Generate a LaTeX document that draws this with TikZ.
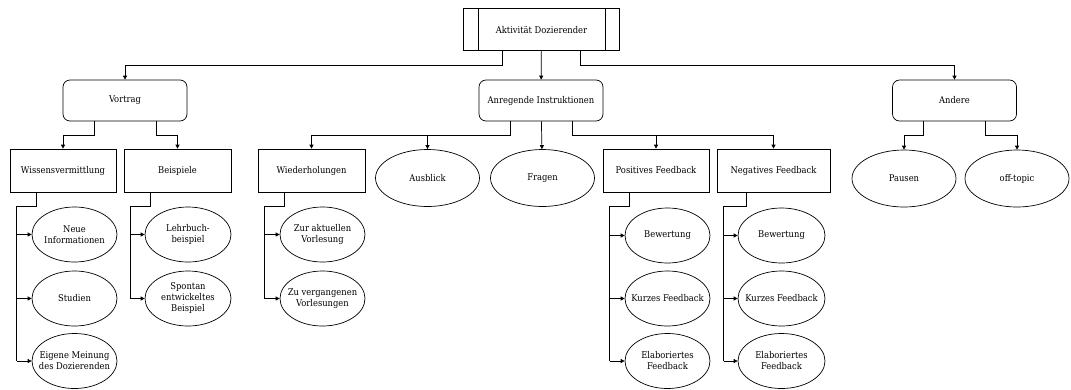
\documentclass[tikz,border=0pt]{standalone}
\usepackage{fontspec}
\setmainfont{DejaVu Serif Condensed}
\usetikzlibrary{arrows.meta,shapes.geometric,calc}

\begin{document}
\begin{tikzpicture}[x=1pt,y=-1pt,
    font=\fontsize{9.3}{11}\selectfont,
    every path/.style={line width=0.7pt},
    arr/.style={-{Triangle[length=4pt,width=4pt]}},
    topbox/.style={draw, rectangle, minimum width=156, minimum height=42},
    groupbox/.style={draw, rectangle, rounded corners=7pt, minimum width=124, minimum height=41},
    catbox/.style={draw, rectangle, minimum width=106, minimum height=43},
    leaf/.style={draw, ellipse, align=center, inner xsep=-40pt, inner ysep=0pt,
        minimum width=85, minimum height=55},
    bigleaf/.style={leaf, minimum width=104, minimum height=57}]
    \useasboundingbox (0,0) rectangle (1071,389);

    %oberste Ebene
    \node[topbox] (top) at (541.5,29.5) {Aktivität Dozierender};
    \draw ([xshift=15]top.north west) -- ([xshift=15]top.south west);
    \draw ([xshift=-15]top.north east) -- ([xshift=-15]top.south east);

    \node[groupbox] (vortrag) at (125,100.5) {Vortrag};
    \node[groupbox] (anregend) at (541,100.5) {Anregende Instruktionen};
    \node[groupbox] (andere) at (954.5,100.5) {Andere};

    \draw[arr] ([xshift=-39]top.south) -- ++(0,14) -| (vortrag);
    \draw[arr] (top) -- (anregend);
    \draw[arr] ([xshift=39]top.south) -- ++(0,14) -| (andere);

    %zweite Ebene
    \node[catbox] (wissen) at (63,170.5) {Wissensvermittlung};
    \node[catbox, minimum width=107] (beisp) at (177.5,170.5) {Beispiele};
    \node[catbox, minimum width=107] (wiederh) at (311.5,170.5) {Wiederholungen};
    \node[bigleaf] (ausblick) at (427.5,178) {Ausblick};
    \node[bigleaf] (fragen) at (542.5,178) {Fragen};
    \node[catbox] (posfb) at (656,170.5) {Positives Feedback};
    \node[catbox, minimum width=113] (negfb) at (773.5,170.5) {Negatives Feedback};
    \node[bigleaf] (pausen) at (904,178.5) {Pausen};
    \node[bigleaf] (offtopic) at (1017,178.5) {off-topic};

    \draw[arr] ([xshift=-31]vortrag.south) -- ++(0,14) -| (wissen);
    \draw[arr] ([xshift=31]vortrag.south) -- ++(0,14) -| (beisp);
    \draw[arr] ([xshift=-31]anregend.south) -- ++(0,14) -| (wiederh);
    \draw[arr] ([xshift=-31]anregend.south) -- ++(0,14) -| (ausblick);
    \draw[arr] (anregend) -- (fragen);
    \draw[arr] ([xshift=31]anregend.south) -- ++(0,14) -| (posfb);
    \draw[arr] ([xshift=31]anregend.south) -- ++(0,14) -| (negfb);
    \draw[arr] ([xshift=-31]andere.south) -- ++(0,14) -| (pausen);
    \draw[arr] ([xshift=31]andere.south) -- ++(0,14) -| (offtopic);

    %dritte Ebene
    \node[leaf] (neueinfo) at (74.5,234.5) {Neue\\Informationen};
    \node[leaf] (studien) at (74.5,298.5) {Studien};
    \node[leaf] (meinung) at (74.5,361) {Eigene Meinung\\des Dozierenden};
    \node[leaf, minimum width=86] (lehrbuch) at (188,234.5) {Lehrbuch-\\beispiel};
    \node[leaf, minimum width=86] (spontan) at (188,298.5) {Spontan\\entwickeltes\\Beispiel};
    \node[leaf] (aktuell) at (322.5,234.5) {Zur aktuellen\\Vorlesung};
    \node[leaf] (vergangen) at (322.5,298.5) {Zu vergangenen\\Vorlesungen};
    \node[leaf] (posbew) at (667.5,235.5) {Bewertung};
    \node[leaf] (poskurz) at (667.5,298.5) {Kurzes Feedback};
    \node[leaf] (poselab) at (667.5,361) {Elaboriertes\\Feedback};
    \node[leaf, minimum width=87] (negbew) at (781.5,235.5) {Bewertung};
    \node[leaf, minimum width=87] (negkurz) at (781.5,298.5) {Kurzes Feedback};
    \node[leaf, minimum width=87] (negelab) at (781.5,361) {Elaboriertes\\Feedback};

    \foreach \p/\last/\kids in {
        wissen/meinung/{neueinfo,studien,meinung},
        beisp/spontan/{lehrbuch,spontan},
        wiederh/vergangen/{aktuell,vergangen},
        posfb/poselab/{posbew,poskurz,poselab},
        negfb/negelab/{negbew,negkurz,negelab}} {
        \coordinate (r\p) at ($(\p.south west)+(7,14)$);
        \draw ([xshift=-27]\p.south) |- (r\p) -- (r\p |- \last.west);
        \foreach \k in \kids {
            \draw[arr] (r\p |- \k.west) -- (\k.west);
        }
    }
\end{tikzpicture}
\end{document}
